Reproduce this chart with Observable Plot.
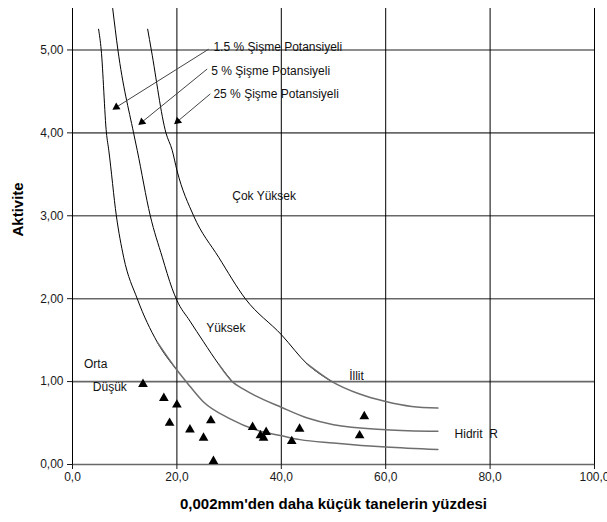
<!DOCTYPE html>
<html><head><meta charset="utf-8">
<script src="https://cdn.jsdelivr.net/npm/d3@7"></script>
<script src="https://cdn.jsdelivr.net/npm/@observablehq/plot@0.6"></script>
<style>body{margin:0;background:#fff;}</style>
</head><body><div id="chart"></div>
<script>
// Axis ticks
const xTicks = [0, 20, 40, 60, 80, 100];
const yTicks = [0, 1, 2, 3, 4, 5];

// Sample points (triangles)
const sampleX = [13.5, 17.5, 20.0, 18.6, 22.5, 25.1, 26.5, 27.0, 34.5, 36.0, 36.6, 37.1, 42.0, 43.5, 55.9, 55.0];
const sampleY = [0.97, 0.80, 0.72, 0.50, 0.42, 0.32, 0.53, 0.04, 0.45, 0.35, 0.32, 0.39, 0.28, 0.43, 0.58, 0.35];

// Swell potential curves
const curve15X = [5.0, 5.5, 6.5, 6.95, 8.4, 9.8, 12.4, 16.2, 20.0, 21.9, 25.0, 30.2, 36.0, 39.8, 43.6, 50.0, 60.0, 70.0];
const curve15Y = [5.25, 5.0, 4.0, 3.79, 3.0, 2.5, 2.0, 1.48, 1.14, 0.99, 0.76, 0.55, 0.40, 0.35, 0.30, 0.26, 0.21, 0.18];
const curve5X = [7.7, 8.7, 11.7, 12.4, 14.9, 17.2, 19.1, 20.0, 22.5, 25.1, 28.0, 30.6, 33.0, 35.0, 40.0, 45.0, 50.0, 60.0, 70.0];
const curve5Y = [5.5, 5.0, 4.0, 3.79, 3.0, 2.5, 2.12, 1.98, 1.73, 1.48, 1.21, 1.0, 0.9, 0.83, 0.69, 0.56, 0.48, 0.42, 0.40];
const curve25X = [14.4, 15.1, 17.9, 19.1, 20.0, 23.2, 28.0, 33.1, 40.1, 45.0, 49.7, 55.0, 60.0, 65.0, 70.0];
const curve25Y = [5.25, 5.0, 4.0, 3.79, 3.55, 3.0, 2.5, 2.0, 1.56, 1.21, 1.0, 0.85, 0.76, 0.70, 0.68];

// Arrow annotations
const arrowLabels = ["1.5 % Şişme Potansiyeli", "5 % Şişme Potansiyeli", "25 % Şişme Potansiyeli"];
const arrowTextX = [27.0, 26.6, 27.0];
const arrowTextY = [5.03, 4.75, 4.47];
const arrowTailX = [26.1, 25.8, 26.4];
const arrowTailY = [5.01, 4.77, 4.47];
const arrowTipX = [8.4, 13.3, 20.15];
const arrowTipY = [4.31, 4.13, 4.14];

// Region labels
const regionLabels = ["Çok Yüksek", "Yüksek", "Orta", "Düşük", "İllit", "Hidrit\u00a0\u00a0R"];
const regionX = [30.6, 25.6, 2.2, 3.9, 53.0, 73.2];
const regionY = [3.24, 1.64, 1.21, 0.93, 1.07, 0.37];

const xLabel = "0,002mm'den daha küçük tanelerin yüzdesi";
const yLabel = "Aktivite";

// Build tables
const samples = sampleX.map((x, i) => ({x, y: sampleY[i]}));
const curves = [[curve15X, curve15Y, "c1"], [curve5X, curve5Y, "c2"], [curve25X, curve25Y, "c3"]];
const split = 1.2;
const upperRows = [], lowerRows = [];
for (const [xs, ys, name] of curves) {
  const iFirstBelow = ys.findIndex(v => v < split);
  xs.forEach((x, i) => {
    const y = ys[i];
    if (i < iFirstBelow + 1) upperRows.push({x, y, curve: name});
    if (i >= iFirstBelow - 1) lowerRows.push({x, y, curve: name});
  });
}
const arrows = arrowLabels.map((t, i) => ({
  text: t, tx: arrowTextX[i], ty: arrowTextY[i],
  tailX: arrowTailX[i], tailY: arrowTailY[i], tipX: arrowTipX[i], tipY: arrowTipY[i]
}));
const regions = regionLabels.map((t, i) => ({text: t, x: regionX[i], y: regionY[i]}));

const font = "'Liberation Sans', Arial, Helvetica, sans-serif";

function build(angles) {
  return Plot.plot({
    width: 607, height: 522,
    marginLeft: 72, marginRight: 13, marginTop: 8, marginBottom: 58,
    style: {fontFamily: font, fontSize: "12px", color: "#1a1a1a", background: "#fff"},
    x: {domain: [0, 100]},
    y: {domain: [0, 5.5]},
    marks: [
      Plot.ruleY(yTicks, {stroke: "#686868", strokeWidth: 1.6}),
      Plot.ruleX(xTicks.filter(d => d > 0), {stroke: "#000", strokeWidth: 1}),
      Plot.ruleX([0], {stroke: "#000", strokeWidth: 1}),
      Plot.axisX({ticks: xTicks, tickFormat: d => d.toFixed(1).replace(".", ","), tickSize: 5, tickPadding: 3, label: null}),
      Plot.axisY({ticks: yTicks, tickFormat: d => d.toFixed(2).replace(".", ","), tickSize: 5, tickPadding: 4, label: null}),
      Plot.line(upperRows, {x: "x", y: "y", z: "curve", stroke: "#000", strokeWidth: 1, curve: "monotone-x"}),
      Plot.line(lowerRows, {x: "x", y: "y", z: "curve", stroke: "#6e6e6e", strokeWidth: 1.5, curve: "monotone-x"}),
      Plot.link(arrows, {x1: "tailX", y1: "tailY", x2: "tipX", y2: "tipY", stroke: "#444", strokeWidth: 1}),
      Plot.dot(arrows, {x: "tipX", y: "tipY", symbol: "triangle", r: 3, fill: "#000", stroke: "none", rotate: (d, i) => angles[i]}),
      Plot.text(arrows, {x: "tx", y: "ty", text: "text", textAnchor: "start", fontSize: 12, fill: "#111"}),
      Plot.text(regions, {x: "x", y: "y", text: "text", textAnchor: "start", fontSize: 12, fill: "#111"}),
      Plot.dot(samples, {x: "x", y: "y", symbol: "triangle", r: 3.6, fill: "#000", stroke: "none"}),
      Plot.text([xLabel], {text: d => d, frameAnchor: "bottom", dy: 44, fontWeight: "bold", fontSize: 15, fill: "#000"}),
      Plot.text([yLabel], {text: d => d, frameAnchor: "left", dx: -54, rotate: -90, fontWeight: "bold", fontSize: 15, fill: "#000"})
    ]
  });
}

const first = build([0, 0, 0]);
const sx = first.scale("x"), sy = first.scale("y");
const angles = arrows.map(a => {
  const dx = sx.apply(a.tipX) - sx.apply(a.tailX);
  const dy = sy.apply(a.tipY) - sy.apply(a.tailY);
  return Math.atan2(dy, dx) * 180 / Math.PI + 90;
});
document.getElementById("chart").append(build(angles));
</script>
</body></html>
